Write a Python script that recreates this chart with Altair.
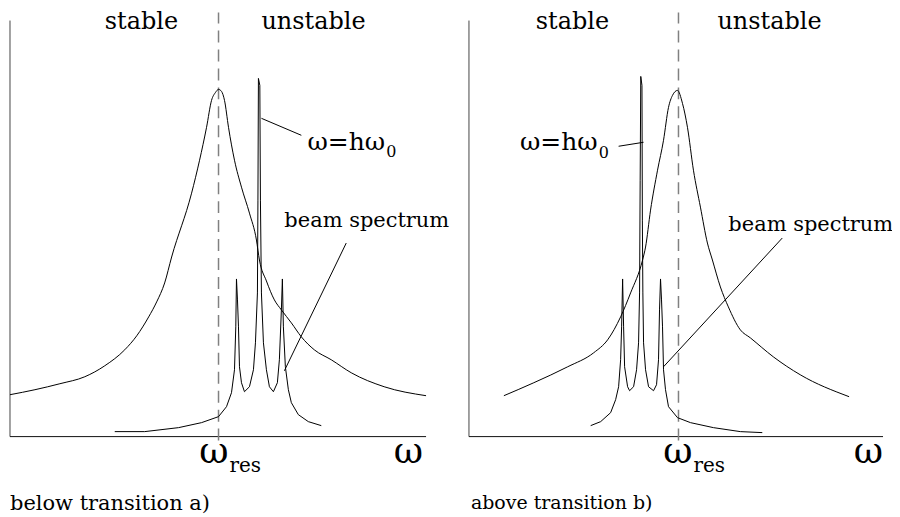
import altair as alt
import pandas as pd

FONT = "DejaVu Serif"

# ---------------- panel a) below transition (arbitrary units) ----------------
A_RES_X = [0, 25, 50, 75, 95, 115, 127, 139, 147, 155, 162, 182, 190, 197, 202, 206, 209, 212, 215,
           219, 225, 232, 240, 247, 250, 257, 265, 272, 282, 292, 305, 322, 342, 375, 417]
A_RES_Y = [42, 47, 53, 60, 71, 87, 101, 120, 135, 154, 180, 244, 277, 310, 337, 345, 348, 346, 337,
           310, 277, 250, 224, 197, 177, 156, 137, 127, 114, 100, 87, 77, 64, 50, 41]
A_BEAM_X = [105, 135, 169, 192, 209, 217, 222, 225, 226.3, 227, 228, 229, 230, 232, 235, 240, 244, 246,
            248, 248.5, 249, 250.4, 251, 252, 254, 257, 260, 264, 268, 270, 272, 273, 274, 276, 279,
            282, 289, 299, 312]
A_BEAM_Y = [5, 5, 9, 14, 20, 30, 44, 67, 110, 158, 137, 110, 70, 54, 45, 50, 67, 94,
            144, 237, 359, 352, 237, 144, 94, 67, 50, 45, 54, 77, 127, 158, 110, 70, 47,
            34, 22, 15, 11]
A_RES_CENTER = 209
A_AXIS_END = 417

# ---------------- panel b) above transition ----------------
B_RES_X = [35, 65, 99, 125, 139, 152, 162, 174, 177, 182, 189, 195, 200, 204, 209, 214, 219, 225,
           232, 239, 244, 252, 260, 272, 282, 305, 332, 381]
B_RES_Y = [41, 54, 70, 84, 97, 120, 144, 177, 190, 227, 267, 297, 330, 342, 347, 334, 310, 267,
           230, 194, 177, 150, 130, 107, 99, 80, 62, 40]
B_BEAM_X = [122, 132, 142, 147, 150, 152, 153, 154, 155, 156, 159, 161, 165, 168, 170, 171, 171.6,
            172.2, 173.4, 173.8, 174.3, 175, 177, 180, 185, 188, 190, 191, 192, 193, 194, 195, 197,
            200, 209, 222, 245, 272, 294]
B_BEAM_Y = [11, 15, 24, 37, 50, 77, 110, 158, 110, 70, 50, 46, 50, 67, 94, 144, 257,
            361, 352, 217, 144, 94, 67, 50, 46, 52, 77, 127, 158, 137, 110, 67, 47,
            30, 19, 14, 9, 5, 4]
B_RES_CENTER = 210
B_AXIS_END = 415

# ---------------- texts ----------------
TXT_STABLE = "stable"
TXT_UNSTABLE = "unstable"
TXT_HARM = "ω=hω"
TXT_SUB0 = "0"
TXT_BEAM = "beam spectrum"
TXT_OMEGA = "ω"
TXT_RES = "res"
TXT_A = "below transition a)"
TXT_B = "above transition b)"

# annotation anchor positions (data units) per panel
A_POS = {"stable": (95, 409), "unstable": (252, 409), "harm": (376, 287), "sub0": (377, 280),
         "beam": (275, 210), "wres": (219, -26), "res": (220, -35), "w": (414, -26), "cap": (0, -74)}
B_POS = {"stable": (67, 409), "unstable": (249, 409), "harm": (129, 287), "sub0": (130, 279),
         "beam": (260, 206), "wres": (224, -26), "res": (225, -35), "w": (415, -26), "cap": (2, -73)}
A_LEADERS = [(252, 319, 292, 302), (337, 194, 275, 66)]
B_LEADERS = [(150, 291, 175, 295), (314, 199, 195, 70)]

Y_DOMAIN = [-80, 429]
HEIGHT = 509


def panel(res_x, res_y, beam_x, beam_y, center, axis_end, leaders, pos, caption, cap_size,
          xdom, width):
    xs = alt.Scale(domain=xdom, nice=False, zero=False)
    ys = alt.Scale(domain=Y_DOMAIN, nice=False, zero=False)

    def XY():
        return dict(x=alt.X("x:Q", scale=xs, axis=None), y=alt.Y("y:Q", scale=ys, axis=None))

    def line(xv, yv, interp):
        df = pd.DataFrame({"x": xv, "y": yv, "i": list(range(len(xv)))})
        return alt.Chart(df).mark_line(color="black", strokeWidth=1, interpolate=interp).encode(
            order="i:Q", **XY())

    def rules(rows, **kw):
        df = pd.DataFrame(rows, columns=["x", "y", "x2", "y2"])
        return alt.Chart(df).mark_rule(**kw).encode(
            x=alt.X("x:Q", scale=xs, axis=None), y=alt.Y("y:Q", scale=ys, axis=None),
            x2="x2:Q", y2="y2:Q")

    def text(key, label, size, align):
        x, y = pos[key]
        df = pd.DataFrame({"x": [x], "y": [y], "t": [label]})
        return alt.Chart(df).mark_text(font=FONT, fontSize=size, align=align,
                                       baseline="alphabetic", color="black", clip=True).encode(
            text="t:N", **XY())

    layers = [
        rules([(0, 0, 0, 417)], color="#444", strokeWidth=1),
        rules([(0, 0, axis_end, 0)], color="#111", strokeWidth=1),
        rules([(center, -4, center, 425)], color="#808080", strokeWidth=1.5, strokeDash=[12, 7]),
        line(res_x, res_y, "monotone"),
        line(beam_x, beam_y, "linear"),
        rules(leaders, color="black", strokeWidth=1),
        text("stable", TXT_STABLE, 24, "left"),
        text("unstable", TXT_UNSTABLE, 24, "left"),
        text("harm", TXT_HARM, 25, "right"),
        text("sub0", TXT_SUB0, 16, "left"),
        text("beam", TXT_BEAM, 21, "left"),
        text("wres", TXT_OMEGA, 36, "right"),
        text("res", TXT_RES, 20, "left"),
        text("w", TXT_OMEGA, 36, "right"),
        text("cap", caption, cap_size, "left"),
    ]
    return alt.layer(*layers).properties(width=width, height=HEIGHT)


left = panel(A_RES_X, A_RES_Y, A_BEAM_X, A_BEAM_Y, A_RES_CENTER, A_AXIS_END, A_LEADERS, A_POS,
             TXT_A, 21, [0, 450], 450)
right = panel(B_RES_X, B_RES_Y, B_BEAM_X, B_BEAM_Y, B_RES_CENTER, B_AXIS_END, B_LEADERS, B_POS,
              TXT_B, 19, [-10, 424], 434)

chart = alt.hconcat(left, right, spacing=0, bounds="flush", padding=0).configure_view(stroke=None)

chart.save("out.html", embed_options={"renderer": "svg", "actions": False})
